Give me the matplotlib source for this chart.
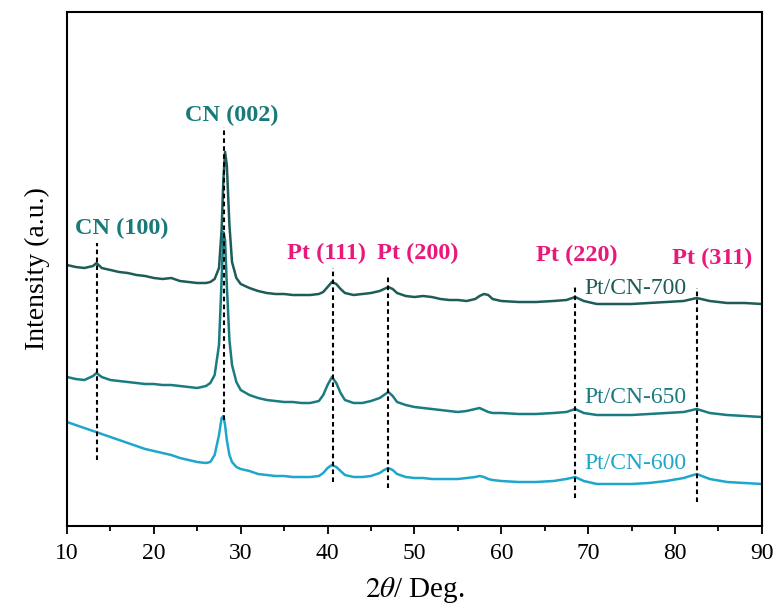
import matplotlib.pyplot as plt
from matplotlib.ticker import MultipleLocator

plt.rcParams['font.family'] = ['Liberation Serif', 'DejaVu Serif']
plt.rcParams['mathtext.fontset'] = 'stix'

# 2theta points (deg), shared by the three patterns
two_theta = [10, 11, 12, 13, 13.4, 14, 15, 16, 17, 18,
             19, 20, 21, 22, 23, 24, 25, 26, 26.5, 27,
             27.5, 27.8, 28.0, 28.2, 28.4, 28.7, 29, 29.5, 30, 31,
             32, 33, 34, 35, 36, 37, 38, 39, 39.5, 40,
             40.5, 41, 41.5, 42, 43, 44, 45, 46, 46.5, 47,
             47.5, 48, 49, 50, 51, 52, 53, 54, 55, 56,
             57, 57.5, 58, 58.5, 59, 60, 62, 64, 66, 67.5,
             68.5, 69.5, 71, 73, 75, 77, 79, 81, 82.5, 84,
             86, 88, 90]

# intensities (a.u., already offset as stacked in the figure)
pt_cn_700 = [261, 259, 258, 260, 263, 258, 256, 254, 253, 251,
             250, 248, 247, 248, 245, 244, 243, 243, 244, 247,
             258, 296, 346, 374, 361, 301, 264, 248, 242, 238,
             235, 233, 232, 232, 231, 231, 231, 232, 234, 239,
             244, 242, 237, 233, 231, 232, 233, 235, 237, 239,
             237, 233, 230, 229, 230, 229, 227, 226, 226, 225,
             227, 230, 232, 231, 227, 225, 224, 224, 225, 226,
             229, 225, 222, 222, 222, 223, 224, 225, 228, 225,
             223, 223, 222]

pt_cn_650 = [149, 147, 146, 150, 153, 149, 146, 145, 144, 143,
             142, 142, 141, 141, 140, 139, 138, 140, 143, 151,
             181, 246, 294, 286, 241, 186, 161, 144, 136, 131,
             128, 126, 125, 124, 124, 123, 123, 125, 131, 141,
             149, 143, 133, 126, 123, 123, 125, 128, 131, 134,
             130, 124, 121, 119, 118, 117, 116, 115, 114, 115,
             117, 118, 116, 114, 113, 113, 112, 112, 113, 114,
             117, 113, 111, 111, 111, 112, 113, 114, 117, 113,
             111, 110, 109]

pt_cn_600 = [104, 101, 98, 95, 94, 92, 89, 86, 83, 80,
             77, 75, 73, 71, 68, 66, 64, 63, 64, 71,
             91, 108, 110, 101, 86, 71, 64, 59, 57, 55,
             52, 51, 50, 50, 49, 49, 49, 50, 53, 58,
             61, 59, 55, 51, 49, 49, 50, 53, 56, 58,
             56, 52, 49, 48, 48, 47, 47, 47, 47, 48,
             49, 50, 49, 47, 46, 45, 44, 44, 45, 47,
             49, 45, 42, 42, 42, 43, 45, 48, 52, 47,
             44, 43, 42]

names = ['Pt/CN-700', 'Pt/CN-650', 'Pt/CN-600']
colors = ['#1d5c58', '#1a7b80', '#1ea6cc']
series = [pt_cn_700, pt_cn_650, pt_cn_600]
name_y = [238, 129, 63]

# reference lines: position, bottom, top, label, label x, label y, colour
peaks = [(13.4, 66, 283, 'CN (100)', 16.3, 298, '#1a7a7a'),
         (28.1, 106, 399, 'CN (002)', 29.0, 411, '#1a7a7a'),
         (40.6, 44, 258, 'Pt (111)', 39.9, 273, '#e8197a'),
         (47.0, 38, 251, 'Pt (200)', 50.4, 273, '#e8197a'),
         (68.5, 28, 241, 'Pt (220)', 68.7, 271, '#e8197a'),
         (82.5, 24, 238, 'Pt (311)', 84.3, 268, '#e8197a')]

fig = plt.figure(figsize=(7.79, 6.15), dpi=100)
ax = fig.add_axes([0.086, 0.1447, 0.892, 0.8358])

for s, c in zip(series, colors):
    ax.plot(two_theta, s, color=c, lw=1.8)

for xp, y0, y1, lab, lx, ly, c in peaks:
    ax.plot([xp, xp], [y0, y1], color='black', ls=(0, (2.2, 1.6)), lw=1.5)
    ax.text(lx, ly, lab, color=c, fontsize=17.5, fontweight='bold',
            ha='center', va='center')

for n, c, ny in zip(names, colors, name_y):
    ax.text(75.4, ny, n, color=c, fontsize=17, ha='center', va='center')

ax.set_xlim(10, 90)
ax.set_ylim(0, 514)
ax.xaxis.set_major_locator(MultipleLocator(10))
ax.xaxis.set_minor_locator(MultipleLocator(5))
ax.tick_params(axis='x', which='major', direction='out', length=6, width=1.3,
               labelsize=17, pad=6)
ax.tick_params(axis='x', which='minor', direction='out', length=3.5, width=1.3)
ax.set_yticks([])
for sp in ax.spines.values():
    sp.set_linewidth(1.5)

ax.set_xlabel(r'$2\theta$/ Deg.', fontsize=21, labelpad=8)
ax.set_ylabel('Intensity (a.u.)', fontsize=20, labelpad=12)

fig.savefig('out.png', dpi=100)
